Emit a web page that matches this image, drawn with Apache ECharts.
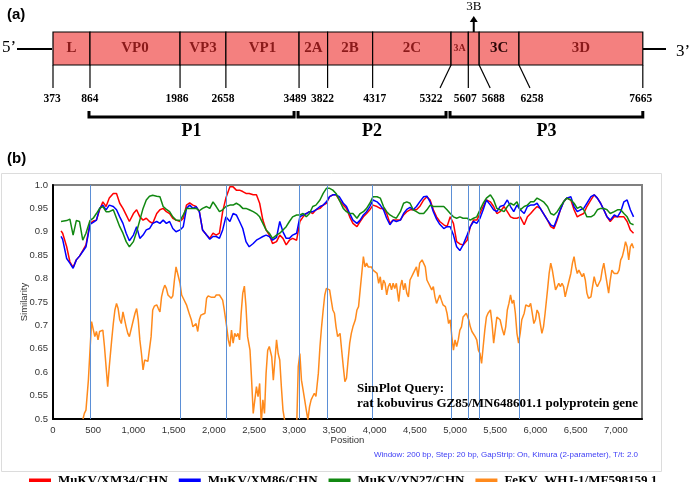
<!DOCTYPE html>
<html><head><meta charset="utf-8">
<script src="https://cdn.jsdelivr.net/npm/echarts@6/dist/echarts.min.js"></script>
<style>html,body{margin:0;padding:0;background:#fff}#c{width:689px;height:482px}</style>
</head><body><div id="c"></div>
<script>
// ---------- Genome map (panel a) ----------
const segNames = ['L','VP0','VP3','VP1','2A','2B','2C','3A','3B','3C','3D'];
const segBounds = [0, 460, 1580, 2150, 3060, 3415, 3975, 4950, 5165, 5300, 5795, 7335];
const tickLabels = ['373','864','1986','2658','3489','3822','4317','5322','5607','5688','6258','7665'];
const polyNames = ['P1','P2','P3'];
const polyRanges = [[460, 3060], [3060, 4950], [4950, 7335]];

// ---------- SimPlot (panel b) ----------
const seriesNames = ['MuKV/XM34/CHN','MuKV/XM86/CHN','MuKV/YN27/CHN','FeKV  WHJ-1/MF598159.1'];
const positions = [100,120,170,210,250,290,330,370,410,460,500,540,580,620,660,700,750,790,830,870,910,950,1000,1040,1080,1120,1160,1200,1240,1290,1330,1370,1410,1450,1490,1530,1580,1620,1660,1700,1740,1780,1820,
1860,1910,1950,1990,2030,2070,2110,2150,2200,2240,2280,2320,2360,2400,2440,2490,2530,2570,2610,2650,2690,2730,2780,2820,2860,2900,2940,2980,3030,3070,3110,3150,3190,3230,3270,3320,3360,3400,3440,3480,3520,3560,3610,3650,
3690,3730,3780,3820,3860,3900,3940,3980,4030,4070,4110,4150,4190,4230,4270,4320,4360,4400,4440,4480,4520,4560,4610,4650,4690,4730,4770,4810,4860,4900,4940,4980,5020,5060,5100,5150,5190,5230,5270,5310,5350,5390,5440,5480,
5520,5560,5610,5650,5690,5730,5770,5810,5860,5900,5940,5980,6020,6060,6100,6150,6190,6230,6270,6310,6350,6390,6440,6480,6520,6560,6600,6640,6690,6730,6770,6810,6850,6890,6930,6980,7020,7060,7100,7140,7180,7220];

const xm34 = [0.902,0.897,0.868,0.836,0.824,0.840,0.848,0.860,0.872,0.918,0.923,0.925,0.947,0.964,0.954,0.972,0.982,0.982,0.961,0.950,0.936,0.922,0.939,0.947,0.932,0.925,0.929,0.922,0.918,0.939,0.947,0.950,0.943,0.939,0.929,0.925,0.922,0.929,0.957,0.962,0.957,0.954,0.943,
0.904,0.893,0.886,0.897,0.893,0.897,0.943,0.972,0.996,0.996,0.989,0.989,0.986,0.982,0.982,0.979,0.979,0.961,0.925,0.904,0.893,0.875,0.879,0.893,0.886,0.872,0.882,0.886,0.882,0.922,0.932,0.939,0.943,0.939,0.947,0.950,0.957,0.961,0.975,0.979,0.979,0.968,0.957,0.950,
0.932,0.918,0.911,0.922,0.932,0.939,0.947,0.957,0.954,0.950,0.950,0.939,0.918,0.925,0.925,0.925,0.936,0.943,0.947,0.947,0.947,0.954,0.968,0.975,0.968,0.947,0.932,0.922,0.915,0.911,0.932,0.918,0.879,0.874,0.872,0.882,0.911,0.925,0.925,0.939,0.954,0.968,0.964,0.954,
0.939,0.943,0.954,0.943,0.932,0.929,0.929,0.932,0.915,0.932,0.939,0.947,0.954,0.950,0.939,0.925,0.911,0.907,0.925,0.947,0.964,0.972,0.968,0.947,0.932,0.936,0.939,0.954,0.968,0.979,0.972,0.961,0.947,0.932,0.922,0.932,0.932,0.932,0.932,0.922,0.904,0.897];

const xm86 = [0.890,0.884,0.843,0.833,0.822,0.840,0.848,0.858,0.868,0.916,0.920,0.925,0.950,0.957,0.947,0.957,0.954,0.947,0.932,0.918,0.897,0.881,0.893,0.911,0.886,0.893,0.904,0.907,0.918,0.922,0.918,0.925,0.918,0.922,0.907,0.900,0.904,0.911,0.950,0.957,0.950,0.954,0.943,
0.904,0.893,0.884,0.890,0.890,0.886,0.904,0.932,0.922,0.939,0.936,0.922,0.907,0.879,0.868,0.875,0.882,0.886,0.890,0.893,0.890,0.882,0.888,0.922,0.900,0.886,0.886,0.893,0.897,0.932,0.936,0.939,0.943,0.943,0.947,0.954,0.957,0.964,0.975,0.979,0.979,0.975,0.961,0.954,
0.939,0.925,0.918,0.925,0.936,0.943,0.954,0.968,0.964,0.957,0.947,0.929,0.915,0.925,0.922,0.925,0.939,0.948,0.952,0.947,0.954,0.964,0.975,0.976,0.964,0.943,0.927,0.916,0.907,0.911,0.911,0.893,0.868,0.860,0.872,0.893,0.911,0.922,0.918,0.929,0.947,0.968,0.957,0.947,
0.943,0.954,0.957,0.968,0.954,0.943,0.957,0.947,0.939,0.954,0.957,0.957,0.961,0.950,0.939,0.925,0.915,0.911,0.929,0.947,0.964,0.972,0.975,0.954,0.943,0.947,0.950,0.961,0.975,0.979,0.972,0.961,0.947,0.932,0.925,0.936,0.932,0.943,0.964,0.968,0.947,0.932];

const yn27 = [0.922,0.924,0.924,0.927,0.893,0.924,0.922,0.882,0.897,0.924,0.929,0.939,0.950,0.954,0.943,0.943,0.947,0.929,0.911,0.897,0.879,0.868,0.879,0.900,0.925,0.950,0.968,0.976,0.978,0.976,0.975,0.954,0.948,0.943,0.932,0.925,0.924,0.936,0.950,0.950,0.950,0.950,0.945,
0.950,0.954,0.950,0.964,0.954,0.943,0.947,0.954,0.957,0.957,0.961,0.957,0.950,0.950,0.947,0.943,0.939,0.932,0.918,0.904,0.897,0.886,0.893,0.897,0.904,0.911,0.922,0.932,0.936,0.936,0.939,0.932,0.939,0.954,0.957,0.968,0.982,0.993,0.993,0.989,0.982,0.968,0.950,0.943,
0.939,0.939,0.929,0.939,0.943,0.950,0.961,0.975,0.975,0.972,0.954,0.943,0.936,0.932,0.929,0.943,0.961,0.964,0.961,0.947,0.943,0.939,0.939,0.947,0.957,0.954,0.954,0.954,0.954,0.947,0.939,0.932,0.929,0.932,0.929,0.929,0.925,0.929,0.932,0.947,0.961,0.972,0.979,0.968,
0.950,0.947,0.943,0.954,0.961,0.957,0.964,0.947,0.954,0.957,0.964,0.964,0.972,0.968,0.964,0.954,0.939,0.936,0.943,0.954,0.964,0.972,0.968,0.961,0.950,0.954,0.947,0.932,0.932,0.936,0.947,0.950,0.950,0.947,0.939,0.943,0.947,0.947,0.939,0.932,0.918,0.915];

const fekvPos = [373,390,410,440,460,480,500,520,540,560,580,600,620,640,660,680,700,730,750,770,790,810,830,850,870,890,910,930,950,970,1000,1020,1040,1060,1080,1100,1120,1140,1160,1180,1200,1220,1240,1260,1290,1310,1330,1350,1370,1390,1410,1430,1450,1470,1490,1510,1530,1550,1580,1600,1620,1640,1660,1680,1700,1720,1740,1760,1780,1800,1820,1840,
1860,1890,1910,1930,1950,1970,1990,2010,2030,2050,2070,2090,2110,2130,2160,2180,2200,2220,2240,2260,2280,2300,2320,2340,2360,2380,2400,2420,2450,2470,2490,2510,2530,2550,2570,2590,2610,2630,2650,2670,2690,2720,2740,2760,2780,2800,2820,2840,2860,2880,2900,2940,2980,3030,3050,3070,3090,3110,3130,3150,3170,3190,3210,3230,3250,3270,3300,3320,3340,3360,3380,3400,3420,3440,3460,3480,3500,3520,3540,3570,3590,3610,3630,3650,
3670,3690,3710,3730,3760,3780,3800,3820,3840,3860,3880,3900,3920,3940,3960,3980,4000,4030,4050,4070,4090,4110,4130,4150,4170,4190,4210,4230,4250,4270,4300,4320,4340,4360,4380,4400,4420,4440,4460,4480,4500,4520,4540,4560,4590,4610,4630,4650,4670,4690,4710,4730,4750,4770,4790,4810,4830,4850,4880,4900,4920,4940,4960,4980,5000,5020,5040,5060,5080,5100,5120,5140,5170,5190,5210,5230,5250,5270,5290,5310,5330,5350,5370,5390,5410,5440,5460,5480,5500,
5520,5540,5560,5590,5610,5630,5650,5670,5690,5710,5730,5750,5770,5790,5810,5830,5860,5880,5900,5920,5940,5960,5980,6000,6020,6040,6060,6080,6100,6120,6150,6170,6190,6210,6230,6250,6270,6290,6310,6330,6350,6370,6390,6410,6440,6460,6480,6500,6520,6540,6560,6580,6600,6620,6640,6660,6690,6710,6730,6750,6770,6790,6810,6830,6850,6870,6890,6910,6930,6950,6980,7000,7020,7040,7060,7080,7100,7120,7140,7160,7180,7200,7220];

const fekv = [0.500,0.512,0.519,0.583,0.647,0.708,0.704,0.676,0.687,0.669,0.687,0.683,0.690,0.655,0.612,0.569,0.612,0.669,0.704,0.733,0.747,0.736,0.712,0.704,0.729,0.726,0.697,0.683,0.676,0.679,0.712,0.726,0.736,0.712,0.669,0.640,0.605,0.626,0.623,0.623,0.626,0.676,0.733,0.741,0.744,0.736,0.729,0.761,0.776,0.786,0.779,0.765,0.761,0.758,0.763,0.797,0.825,0.811,0.790,0.765,0.758,0.754,0.744,0.733,0.722,0.712,0.697,0.701,0.704,0.687,0.712,0.722,
0.726,0.726,0.758,0.763,0.765,0.760,0.763,0.760,0.765,0.763,0.765,0.765,0.754,0.733,0.697,0.669,0.655,0.690,0.662,0.683,0.676,0.683,0.669,0.726,0.769,0.784,0.740,0.676,0.647,0.583,0.512,0.541,0.569,0.548,0.576,0.490,0.541,0.512,0.598,0.647,0.655,0.633,0.583,0.626,0.669,0.640,0.626,0.569,0.519,0.498,0.470,0.450,0.450,0.480,0.612,0.640,0.583,0.562,0.541,0.519,0.498,0.526,0.541,0.548,0.555,0.548,0.598,0.655,0.697,0.733,0.765,0.779,0.781,0.776,0.754,0.733,0.726,0.697,0.676,0.683,0.647,0.612,0.580,0.587,
0.626,0.662,0.683,0.697,0.712,0.733,0.740,0.776,0.811,0.847,0.825,0.833,0.825,0.829,0.825,0.818,0.822,0.811,0.790,0.804,0.776,0.797,0.790,0.765,0.783,0.790,0.776,0.790,0.779,0.790,0.751,0.783,0.797,0.776,0.790,0.769,0.761,0.797,0.804,0.811,0.815,0.825,0.804,0.833,0.840,0.840,0.825,0.797,0.790,0.790,0.776,0.783,0.761,0.747,0.751,0.765,0.754,0.744,0.740,0.726,0.704,0.712,0.676,0.647,0.669,0.655,0.669,0.690,0.697,0.718,0.722,0.726,0.712,0.697,0.687,0.687,0.676,0.669,0.647,0.640,0.619,0.655,0.690,0.718,0.726,0.733,0.704,0.662,0.690,
0.718,0.722,0.712,0.690,0.679,0.697,0.733,0.747,0.765,0.747,0.754,0.726,0.683,0.662,0.683,0.712,0.726,0.744,0.747,0.740,0.747,0.726,0.704,0.712,0.733,0.726,0.704,0.683,0.697,0.726,0.776,0.811,0.833,0.818,0.797,0.776,0.783,0.790,0.783,0.790,0.783,0.761,0.776,0.790,0.811,0.833,0.847,0.825,0.811,0.818,0.811,0.804,0.811,0.797,0.769,0.758,0.761,0.783,0.804,0.790,0.783,0.790,0.797,0.818,0.833,0.811,0.790,0.769,0.797,0.818,0.811,0.811,0.811,0.818,0.840,0.847,0.861,0.879,0.868,0.840,0.868,0.875,0.865];

// ---------- styles ----------
const X_MAX = 7325;
const colors = ['#ff0000','#0000ff','#118811','#ff8a1c'];
const boxFill = '#f4807f';
const segLabelColor = '#8b1a1a';
const tickSlant = [0,0,0,0,0,0,0,-11,0,11,11,0];
const tickLabelShift = [-1,0,-3,-3,-4,-5,2,-9,-3,3,2,-2];
const SERIF = '"Liberation Serif","Times New Roman",serif';
const SANS = '"Liberation Sans",Arial,sans-serif';

function zip(xs, ys){ const n=Math.min(xs.length, ys.length); const out=[]; for(let i=0;i<n;i++) out.push([xs[i], ys[i]]); return out; }

function renderSegments(params, api){
  const i = params.dataIndex;
  const a = api.coord([api.value(0), 1]);
  const b = api.coord([api.value(1), 0]);
  const x0=a[0], y0=a[1], x1=b[0], y1=b[1];
  const xc=(x0+x1)/2;
  const ch=[{type:'rect', shape:{x:x0,y:y0,width:x1-x0,height:y1-y0}, style:{fill:boxFill, stroke:'#000', lineWidth:1.2}}];
  const name = segNames[i];
  if (name === '3B') {
    ch.push({type:'line', shape:{x1:xc,y1:y0,x2:xc,y2:y0-11}, style:{stroke:'#000', lineWidth:2}});
    ch.push({type:'polygon', shape:{points:[[xc-4,y0-10],[xc,y0-16],[xc+4,y0-10]]}, style:{fill:'#000'}});
    ch.push({type:'text', style:{text:'3B', x:xc, y:y0-25, align:'center', verticalAlign:'middle', fontSize:13, fontFamily:SERIF, fill:'#000'}});
  } else {
    const small = name === '3A';
    ch.push({type:'text', style:{text:name, x:xc, y:(y0+y1)/2, align:'center', verticalAlign:'middle',
      fontSize: small?10:15, fontWeight:'bold', fontFamily:SERIF, fill: name==='3C' ? '#2a0505' : segLabelColor}});
  }
  return {type:'group', children:ch};
}

function renderTicks(params, api){
  const i = params.dataIndex;
  const p = api.coord([api.value(0), 0]);
  const ex = p[0] + tickSlant[i], ey = p[1] + 23;
  return {type:'group', children:[
    {type:'line', shape:{x1:p[0],y1:p[1],x2:ex,y2:ey}, style:{stroke:'#000', lineWidth:1.2}},
    {type:'text', style:{text:tickLabels[i], x:ex+tickLabelShift[i], y:ey+11, align:'center', verticalAlign:'middle', fontSize:11.5, fontWeight:'bold', fontFamily:SERIF, fill:'#000'}}
  ]};
}

function renderBrackets(params, api){
  const i = params.dataIndex;
  const a = api.coord([api.value(0), 0]);
  const b = api.coord([api.value(1), 0]);
  const x0 = a[0]-1, x1 = b[0] - (i < polyNames.length-1 ? 5 : 0);
  const yBar = a[1]+52, yEnd = a[1]+46;
  return {type:'group', children:[
    {type:'polyline', shape:{points:[[x0,yEnd],[x0,yBar],[x1,yBar],[x1,yEnd]]}, style:{stroke:'#000', lineWidth:3, fill:null}},
    {type:'text', style:{text:polyNames[i], x:(x0+x1)/2, y:yBar+14, align:'center', verticalAlign:'middle', fontSize:18, fontWeight:'bold', fontFamily:SERIF, fill:'#000'}}
  ]};
}

function yFmt(v){ const r=Math.round(v*100); return (r%10===0) ? (r/100).toFixed(1) : (r/100).toFixed(2); }

const chart = echarts.init(document.getElementById('c'), null, {renderer:'canvas'});
const lineData = [zip(positions, xm34), zip(positions, xm86), zip(positions, yn27), zip(fekvPos, fekv)];

const option = {
  animation:false,
  backgroundColor:'#fff',
  title:[
    {text:'(a)', left:7, top:7, padding:0, textStyle:{fontFamily:SANS, fontWeight:'bold', fontSize:15, color:'#000'}},
    {text:'(b)', left:7, top:151, padding:0, textStyle:{fontFamily:SANS, fontWeight:'bold', fontSize:15, color:'#000'}}
  ],
  grid:[
    {left:53, right:47, top:32, height:33, show:false},
    {left:53, right:47, top:185, height:234, show:true, borderColor:'#808080', borderWidth:2, backgroundColor:'#fff'}
  ],
  xAxis:[
    {gridIndex:0, type:'value', min:0, max:X_MAX, show:false},
    {gridIndex:1, type:'value', min:0, max:X_MAX, interval:500,
     name:'Position', nameLocation:'middle', nameGap:16, nameMoveOverlap:false, nameTextStyle:{fontFamily:SANS, fontSize:9.5, color:'#333', verticalAlign:'top'},
     axisLine:{lineStyle:{color:'#000', width:2}}, axisTick:{show:false}, splitLine:{show:false},
     axisLabel:{showMaxLabel:false, fontFamily:SANS, fontSize:9.5, color:'#333', margin:6,
       formatter:v=>Number(v).toLocaleString('en-US')}}
  ],
  yAxis:[
    {gridIndex:0, type:'value', min:0, max:1, show:false},
    {gridIndex:1, type:'value', min:0.5, max:1.0, interval:0.05,
     name:'Similarity', nameLocation:'middle', nameGap:24, nameRotate:90, nameMoveOverlap:false, nameTextStyle:{fontFamily:SANS, fontSize:9.5, color:'#333'},
     axisLine:{lineStyle:{color:'#000', width:2}}, axisTick:{show:false}, splitLine:{show:false},
     axisLabel:{fontFamily:SANS, fontSize:9.5, color:'#333', margin:5, formatter:yFmt}}
  ],
  legend:{left:24, top:469, width:665, itemWidth:22, itemHeight:4, itemGap:11, icon:'rect',
    textStyle:{fontFamily:SERIF, fontWeight:'bold', fontSize:13, color:'#000', padding:[0,0,0,2]},
    data:seriesNames},
  graphic:[
    {type:'rect', z:-10, shape:{x:1.5, y:173.5, width:660, height:298}, style:{fill:'none', stroke:'#dcdcdc', lineWidth:1}},
    {type:'line', shape:{x1:17, y1:49, x2:52, y2:49}, style:{stroke:'#000', lineWidth:2}},
    {type:'text', style:{text:'5’', x:2, y:48, verticalAlign:'middle', fontSize:17, fontFamily:SERIF, fill:'#000'}},
    {type:'line', shape:{x1:643, y1:49, x2:666, y2:49}, style:{stroke:'#000', lineWidth:2}},
    {type:'text', style:{text:'3’', x:676, y:52, verticalAlign:'middle', fontSize:17, fontFamily:SERIF, fill:'#000'}},
    {type:'text', z:100, style:{text:'SimPlot Query:\nrat kobuvirus GZ85/MN648601.1 polyprotein gene', x:357, y:381,
      fontSize:13, fontWeight:'bold', fontFamily:SERIF, lineHeight:15, fill:'#000'}},
    {type:'text', style:{text:'Window: 200 bp, Step: 20 bp, GapStrip: On, Kimura (2-parameter), T/t: 2.0', x:638, y:455,
      align:'right', verticalAlign:'middle', fontSize:8, fontFamily:SANS, fill:'#3c3cf5'}}
  ],
  series:[
    {type:'custom', name:'segments', xAxisIndex:0, yAxisIndex:0, silent:true, renderItem:renderSegments,
     data: segNames.map((n,i)=>[segBounds[i], segBounds[i+1]])},
    {type:'custom', name:'ticks', xAxisIndex:0, yAxisIndex:0, silent:true, renderItem:renderTicks,
     data: segBounds.map(b=>[b])},
    {type:'custom', name:'brackets', xAxisIndex:0, yAxisIndex:0, silent:true, renderItem:renderBrackets,
     data: polyRanges},
    ...seriesNames.map((n,k)=>({
      type:'line', name:n, xAxisIndex:1, yAxisIndex:1, data:lineData[k], showSymbol:false, symbol:'none',
      lineStyle:{color:colors[k], width:1.5}, itemStyle:{color:colors[k]}, clip:true, z:3,
      markLine: k===0 ? {silent:true, symbol:['none','none'], label:{show:false},
        lineStyle:{color:'#5b8fd6', width:1, type:'solid'},
        data: segBounds.slice(1, segBounds.length-1).map(v=>({xAxis:v}))} : undefined
    }))
  ]
};
chart.setOption(option);
</script></body></html>
